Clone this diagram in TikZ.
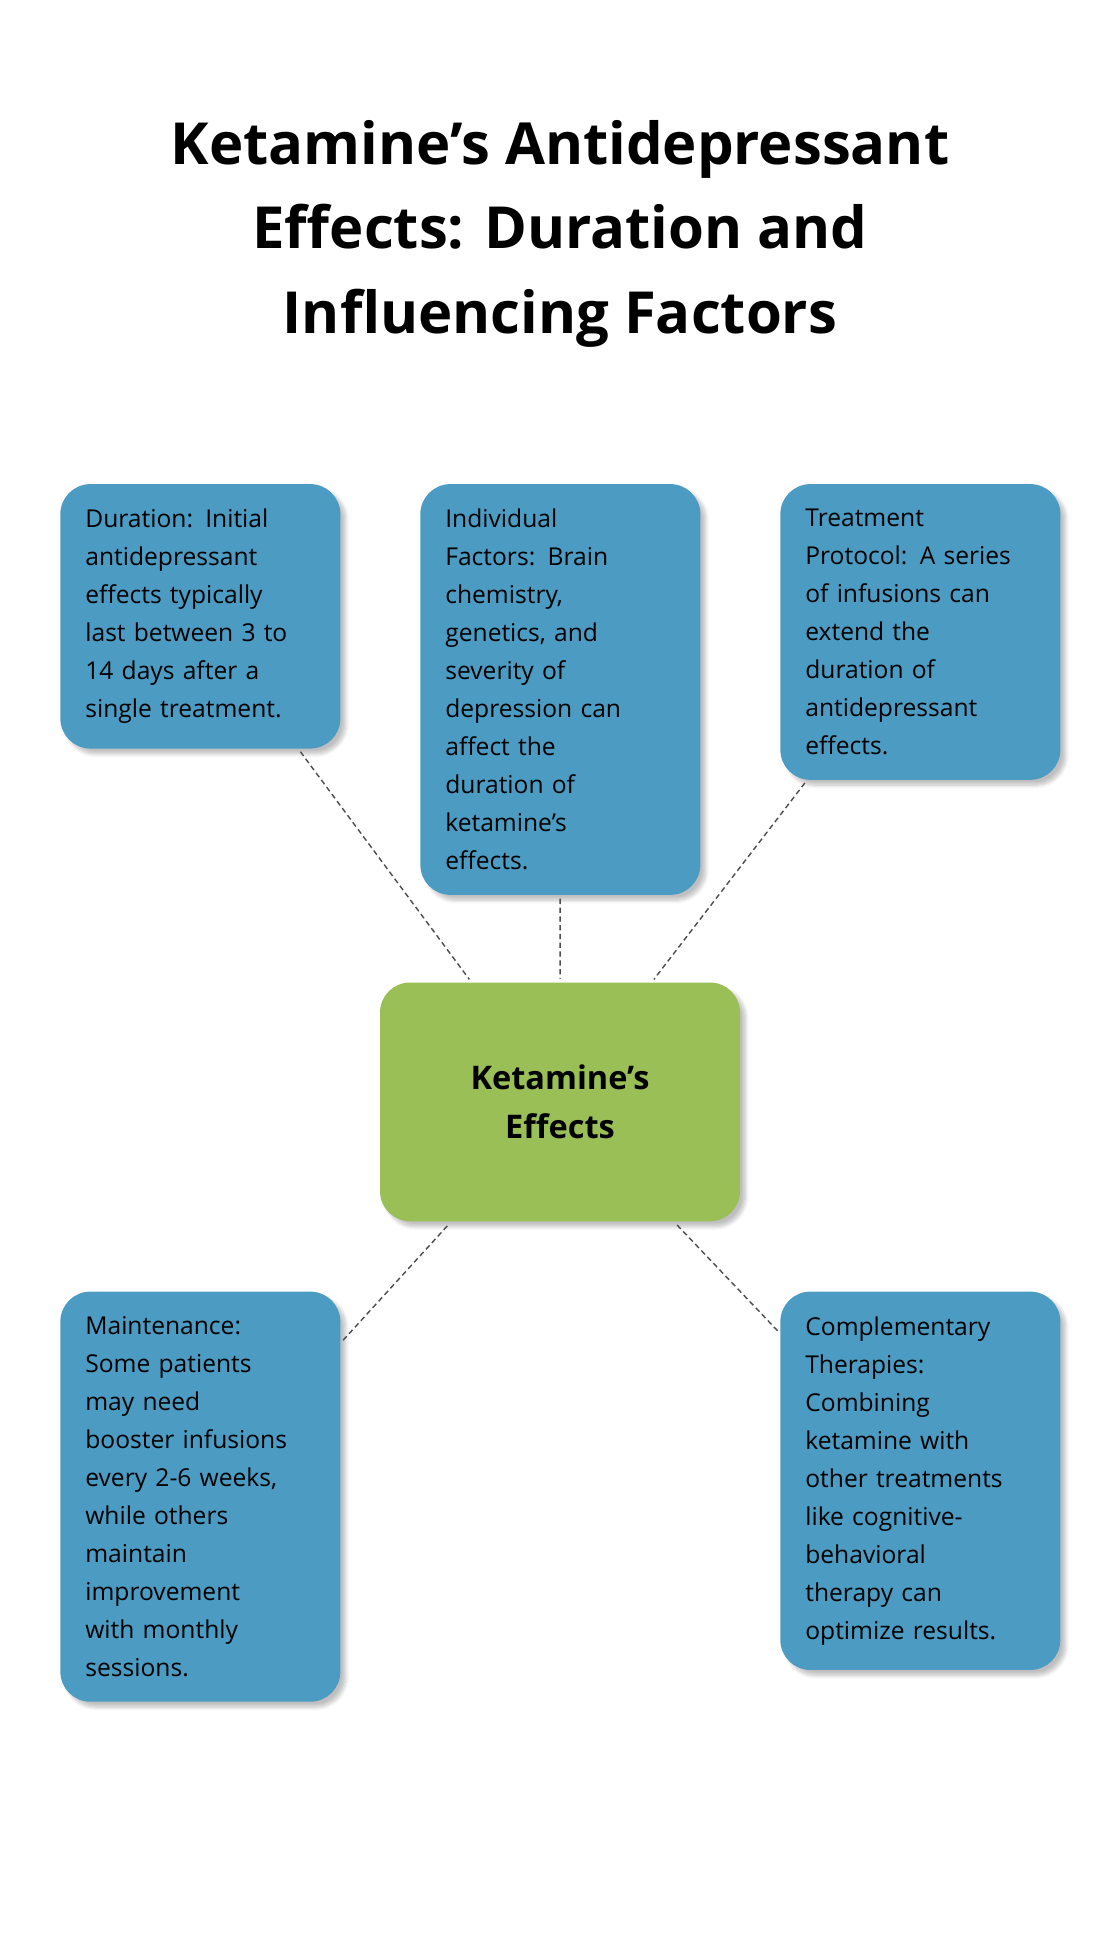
\documentclass[tikz,border=0pt]{standalone}
\usepackage{fontspec}
\setmainfont{Open Sans}
\usetikzlibrary{shadows.blur}
\definecolor{boxblue}{HTML}{4B9BC3}
\definecolor{boxgreen}{HTML}{9ABF57}
\tikzset{
  factor/.style={fill=boxblue,rounded corners=24*0.025cm,inner sep=20*0.025cm,
    text width=184*0.025cm,align=left,anchor=north west,
    font=\fontsize{14}{21.6}\selectfont,
    blur shadow={shadow xshift=3pt,shadow yshift=-3pt,shadow blur steps=8,shadow opacity=25}},
  link/.style={densely dashed,thick,gray!60!black,shorten <=2pt,shorten >=2pt}
}
\begin{document}
\begin{tikzpicture}[x=0.025cm,y=-0.025cm]
\useasboundingbox (0,0) rectangle (896,1568);

% Title
\node[font=\fontsize{33}{48}\selectfont\bfseries,align=center] (title) at (448,187)
  {Ketamine's Antidepressant\\Effects: Duration and\\Influencing Factors};

% Centre node
\node[fill=boxgreen,rounded corners=24*0.025cm,minimum width=288*0.025cm,
  minimum height=191*0.025cm,align=center,font=\fontsize{18.5}{27.7}\selectfont\bfseries,
  blur shadow={shadow xshift=3pt,shadow yshift=-3pt,shadow blur steps=8,shadow opacity=25}]
  (centre) at (448,881.5) {Ketamine's\\Effects};

% Factor boxes
\node[factor] (duration) at (48,387)
  {Duration: Initial\\antidepressant\\effects typically\\last between 3 to\\14 days after a\\single treatment.};
\node[factor] (individual) at (336,387)
  {Individual\\Factors: Brain\\chemistry,\\genetics, and\\severity of\\depression can\\affect the\\duration of\\ketamine's\\effects.};
\node[factor] (protocol) at (624,387)
  {Treatment\\Protocol: A series\\of infusions can\\extend the\\duration of\\antidepressant\\effects.};
\node[factor] (maintenance) at (48,1033)
  {Maintenance:\\Some patients\\may need\\booster infusions\\every 2-6 weeks,\\while others\\maintain\\improvement\\with monthly\\sessions.};
\node[factor] (therapies) at (624,1033)
  {Complementary\\Therapies:\\Combining\\ketamine with\\other treatments\\like cognitive-\\behavioral\\therapy can\\optimize results.};

% Links
\foreach \f in {duration,individual,protocol,maintenance,therapies}
  \draw[link] (\f) -- (centre);
\end{tikzpicture}
\end{document}
